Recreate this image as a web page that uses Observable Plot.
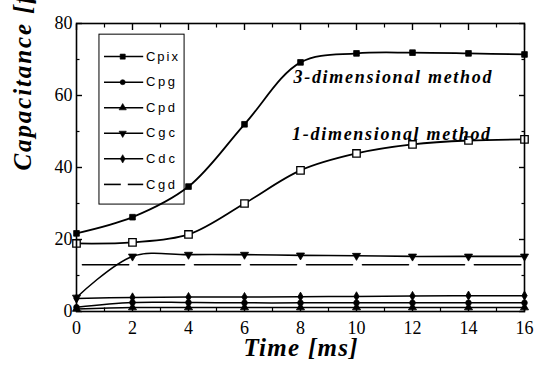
<!DOCTYPE html>
<html>
<head>
<meta charset="utf-8">
<script src="https://cdn.jsdelivr.net/npm/d3@7"></script>
<script src="https://cdn.jsdelivr.net/npm/@observablehq/plot@0.6"></script>
<style>
  html, body { margin: 0; padding: 0; background: #fff; }
  #chart svg { display: block; }
</style>
</head>
<body>
<div id="chart"></div>
<script>
// ---- data ----
const time = [0, 2, 4, 6, 8, 10, 12, 14, 16];
const cpix = [21.7, 26.2, 34.7, 52.0, 69.2, 71.7, 71.9, 71.7, 71.4];   // 3-dimensional method
const oneDim = [18.9, 19.2, 21.4, 30.0, 39.2, 43.9, 46.4, 47.5, 47.8]; // 1-dimensional method
const cpg = [1.2, 2.5, 2.5, 2.4, 2.4, 2.4, 2.4, 2.4, 2.4];
const cpd = [0.7, 1.1, 1.1, 1.1, 1.1, 1.1, 1.1, 1.1, 1.1];
const cgc = [3.9, 15.3, 15.8, 15.8, 15.6, 15.5, 15.3, 15.3, 15.3];
const cdc = [3.6, 3.9, 4.0, 4.0, 4.1, 4.2, 4.3, 4.4, 4.4];
const cgd = [13.0, 13.0, 13.0, 13.0, 13.0, 13.0, 13.0, 13.0, 13.0];

const xTicks = [0, 2, 4, 6, 8, 10, 12, 14, 16];
const xMinor = [1, 3, 5, 7, 9, 11, 13, 15];
const yTicks = [0, 20, 40, 60, 80];
const yMinor = [10, 30, 50, 70];

const legendNames = ["Cpix", "Cpg", "Cpd", "Cgc", "Cdc", "Cgd"];
const annotations = [
  {x: 7.75, y: 63.4, text: "3-dimensional method"},
  {x: 7.7, y: 47.6, text: "1-dimensional method"}
];
const yTitle = "Capacitance [fF]";
const xTitle = "Time [ms]";

const SERIF = "Liberation Serif";
const SANS = "Liberation Sans";

// ---- symbols ----
const triangleDown = {
  draw(context, size) {
    const y = Math.sqrt(size / (3 * Math.sqrt(3)));
    context.moveTo(0, y * 2);
    context.lineTo(-Math.sqrt(3) * y, -y);
    context.lineTo(Math.sqrt(3) * y, -y);
    context.closePath();
  }
};

const rows = (vals) => time.map((t, i) => ({t, v: vals[i]}));

const series = [
  {name: "Cpix", vals: cpix, symbol: "square", r: 3.2, sw: 1.8},
  {name: "Cpg", vals: cpg, symbol: "circle", r: 2.8, sw: 1.5},
  {name: "Cpd", vals: cpd, symbol: "triangle", r: 3.0, sw: 1.5},
  {name: "Cgc", vals: cgc, symbol: triangleDown, r: 3.0, sw: 1.6},
  {name: "Cdc", vals: cdc, symbol: "diamond", r: 2.8, sw: 1.5},
  {name: "Cgd", vals: cgd, symbol: null, r: 0, sw: 1.6, dash: "46,10", offset: 50}
];

// legend layout in data units
const legX1 = 1.0, legX2 = 2.4, legMark = 1.65, legText = 2.48;
const legTop = 70.8, legStep = 7.1;
const legendRows = legendNames.map((n, i) => ({name: n, y: legTop - i * legStep, s: series[i]}));

const marks = [];

// legend box
marks.push(Plot.rect([0], {x1: 0.82, x2: 3.86, y1: 29.7, y2: 76.9, fill: "white", stroke: "black", strokeWidth: 1}));

// series lines + dots
for (const s of series) {
  marks.push(Plot.line(rows(s.vals), {
    x: "t", y: "v", curve: "catmull-rom", stroke: "black", strokeWidth: s.sw,
    strokeDasharray: s.dash, strokeDashoffset: s.offset
  }));
  if (s.symbol) {
    marks.push(Plot.dot(rows(s.vals), {x: "t", y: "v", symbol: s.symbol, r: s.r, fill: "black", stroke: "black", strokeWidth: 0.8}));
  }
}
// 1-dimensional method (open squares)
marks.push(Plot.line(rows(oneDim), {x: "t", y: "v", curve: "catmull-rom", stroke: "black", strokeWidth: 1.8}));
marks.push(Plot.dot(rows(oneDim), {x: "t", y: "v", symbol: "square", r: 4.2, fill: "white", stroke: "black", strokeWidth: 1.3}));

// annotations
marks.push(Plot.text(annotations, {
  x: "x", y: "y", text: "text", textAnchor: "start", lineAnchor: "bottom",
  fontFamily: SERIF, fontWeight: "bold", fontStyle: "italic", fontSize: 18, fill: "black"
}));

// legend entries
for (const r of legendRows) {
  const s = r.s;
  if (s.dash) {
    marks.push(Plot.ruleY([r.y], {x1: legX1, x2: 1.6, stroke: "black", strokeWidth: 1.6}));
    marks.push(Plot.ruleY([r.y], {x1: 1.85, x2: legX2, stroke: "black", strokeWidth: 1.6}));
  } else {
    marks.push(Plot.ruleY([r.y], {x1: legX1, x2: legX2, stroke: "black", strokeWidth: 1.5}));
    marks.push(Plot.dot([r.y], {x: legMark, y: d => d, symbol: s.symbol, r: s.r * 0.9, fill: "black", stroke: "black", strokeWidth: 0.6}));
  }
}
marks.push(Plot.text(legendRows, {
  x: legText, y: "y", text: "name", textAnchor: "start",
  fontFamily: SANS, fontSize: 13, fill: "black"
}));

// frame
marks.push(Plot.frame({stroke: "black", strokeWidth: 1.6}));

// axes: labels
marks.push(Plot.axisX(xTicks, {anchor: "bottom", tickSize: 0, tickPadding: 10, fontSize: 18, fontFamily: SERIF, label: null}));
marks.push(Plot.axisY(yTicks, {anchor: "left", tickSize: 0, tickPadding: 4, fontSize: 18, fontFamily: SERIF, label: null}));
// inward ticks
for (const a of ["bottom", "top"]) {
  marks.push(Plot.axisX(xTicks, {anchor: a, tickSize: -6, tickFormat: () => "", label: null, strokeWidth: 1.4}));
  marks.push(Plot.axisX(xMinor, {anchor: a, tickSize: -3.5, tickFormat: () => "", label: null, strokeWidth: 1.2}));
}
for (const a of ["left", "right"]) {
  marks.push(Plot.axisY(yTicks, {anchor: a, tickSize: -6, tickFormat: () => "", label: null, strokeWidth: 1.4}));
  marks.push(Plot.axisY(yMinor, {anchor: a, tickSize: -3.5, tickFormat: () => "", label: null, strokeWidth: 1.2}));
}

// axis titles
marks.push(Plot.text([yTitle], {
  frameAnchor: "left", dx: -54, dy: 3, rotate: -90, text: d => d,
  fontFamily: SERIF, fontWeight: "bold", fontStyle: "italic", fontSize: 25, fill: "black"
}));
marks.push(Plot.text([xTitle], {
  frameAnchor: "bottom", dy: 44, text: d => d,
  fontFamily: SERIF, fontWeight: "bold", fontStyle: "italic", fontSize: 25, fill: "black"
}));

const chart = Plot.plot({
  width: 535,
  height: 367,
  marginLeft: 76,
  marginRight: 11,
  marginTop: 23,
  marginBottom: 56,
  x: {domain: [0, 16]},
  y: {domain: [0, 80]},
  style: {background: "white", color: "black", fontFamily: SERIF},
  marks
});
document.getElementById("chart").appendChild(chart);

// the reference sets these texts letter-spaced: stretch them to its widths
const widths = new Map([
  [annotations[0].text, 198],
  [annotations[1].text, 198],
  [xTitle, 114],
  [yTitle, 204],
  ...legendNames.map(n => [n, n.length === 4 ? 32 : 29])
]);
d3.select(chart).selectAll("text").each(function() {
  const w = widths.get(this.textContent);
  if (w) d3.select(this).attr("textLength", w).attr("lengthAdjust", "spacing");
});
</script>
</body>
</html>
